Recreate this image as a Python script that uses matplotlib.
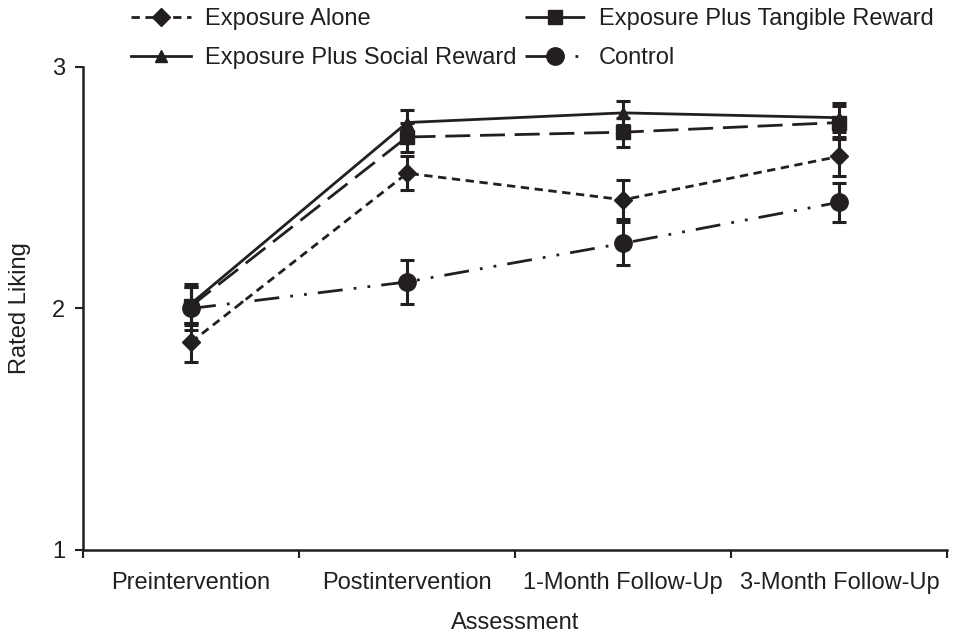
import matplotlib
matplotlib.use("Agg")
import matplotlib.pyplot as plt
import numpy as np

plt.rcParams['font.family'] = ['Liberation Sans', 'DejaVu Sans']

# Assessment points
assessments = ["Preintervention", "Postintervention", "1-Month Follow-Up", "3-Month Follow-Up"]

# Mean rated liking per group
exposure_alone = [1.86, 2.56, 2.45, 2.63]
exposure_alone_err = [0.08, 0.07, 0.08, 0.08]

tangible_reward = [2.01, 2.71, 2.73, 2.77]
tangible_reward_err = [0.08, 0.06, 0.06, 0.07]

social_reward = [2.02, 2.77, 2.81, 2.79]
social_reward_err = [0.08, 0.05, 0.05, 0.06]

control = [2.00, 2.11, 2.27, 2.44]
control_err = [0.09, 0.09, 0.09, 0.08]

ink = "#231f20"
x = np.arange(len(assessments))

fig = plt.figure(figsize=(9.68, 6.41), dpi=100)
ax = fig.add_axes([0.0857, 0.142, 0.893, 0.7535])

def plot_group(vals, errs, label, marker, ms, dashes):
    line = ax.errorbar(x, vals, yerr=errs, color=ink, marker=marker, markersize=ms,
                       linewidth=2.0, elinewidth=2.2, capsize=5, capthick=2.2,
                       label=label)
    if dashes is not None:
        line[0].set_dashes(dashes)
    return line

h1 = plot_group(exposure_alone, exposure_alone_err, "Exposure Alone", "D", 9.5, (3, 2))
h3 = plot_group(social_reward, social_reward_err, "Exposure Plus Social Reward", "^", 8, None)
h2 = plot_group(tangible_reward, tangible_reward_err, "Exposure Plus Tangible Reward", "s", 10, (9, 3.5))
h4 = plot_group(control, control_err, "Control", "o", 12.5, (9, 4, 1, 4, 1, 4))

ax.set_xlim(-0.5, 3.5)
ax.set_ylim(1, 3)
ax.set_yticks([1, 2, 3])
ax.set_xticks(x)
ax.set_xticklabels(assessments)
ax.set_xticks(np.arange(-0.5, 4.0, 1.0), minor=True)
ax.tick_params(axis='x', which='major', length=0, pad=16, labelsize=17, colors=ink)
ax.tick_params(axis='x', which='minor', length=6, width=1.5, color=ink)
ax.tick_params(axis='y', length=6, width=1.5, labelsize=17, colors=ink, pad=7)
for s in ["top", "right"]:
    ax.spines[s].set_visible(False)
for s in ["left", "bottom"]:
    ax.spines[s].set_linewidth(1.8)
    ax.spines[s].set_color(ink)

ax.set_xlabel("Assessment", fontsize=17, color=ink, labelpad=13)
ax.set_ylabel("Rated Liking", fontsize=17, color=ink, labelpad=15)

# legend: two columns above the plot
handles = [h1, h3, h2, h4]
labels = ["Exposure Alone", "Exposure Plus Social Reward",
          "Exposure Plus Tangible Reward", "Control"]
leg = fig.legend([h[0] for h in handles], labels, ncol=2, loc="upper left",
                 bbox_to_anchor=(0.113, 1.021), frameon=False, fontsize=17,
                 handlelength=2.55, columnspacing=0.35, handletextpad=0.6,
                 labelspacing=0.75, numpoints=1)
for t in leg.get_texts():
    t.set_color(ink)

fig.savefig("out.png", dpi=100)
